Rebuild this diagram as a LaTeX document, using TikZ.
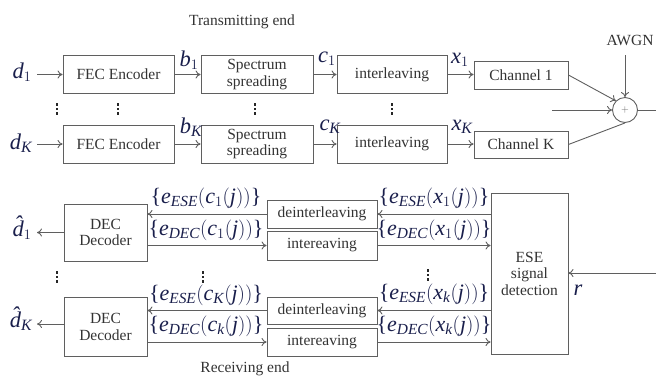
\documentclass[tikz,border=0pt]{standalone}
\usepackage{fontspec}
\setmainfont{Liberation Serif}
\usetikzlibrary{arrows.meta}
\definecolor{linec}{RGB}{95,95,95}
\definecolor{lblc}{RGB}{25,30,75}
\tikzset{
  blk/.style={draw=linec,line width=0.9pt,align=center,inner sep=1pt,
    text=black!80,font=\fontsize{15.5}{16.5}\selectfont},
  lbl/.style={text=lblc,inner sep=0pt,font=\fontsize{22.5}{23}\selectfont},
  elbl/.style={text=lblc,inner sep=0pt,font=\fontsize{22}{23}\selectfont},
  ttl/.style={text=black!80,inner sep=0pt,font=\fontsize{15.5}{16}\selectfont},
}
\newcommand\mi[1]{\mathit{#1}}
\newcommand\lb{\mbox{\{}}
\newcommand\rb{\mbox{\}}}
\newcommand\dhat{\mbox{\itshape\^{d}}}
% three stacked dots
\newcommand\vdotsat[2]{%
  \foreach \dy in {-4.5,0,4.5}
    \fill[black!85] (#1-1.4,#2+\dy-1.4) rectangle ++(2.8,2.8);}
\begin{document}
\begin{tikzpicture}[x=1pt,y=-1pt,line width=0.9pt,draw=linec,
  >={To[length=5pt,width=8pt]}]
  \useasboundingbox (0,0) rectangle (656,376);

  % transmitting end
  \node[ttl] (tx) at (242,22) {Transmitting end};

  \node[blk,minimum width=111pt,minimum height=38pt] (fec1) at (118.5,74.5) {FEC Encoder};
  \node[blk,minimum width=112pt,minimum height=38pt] (spr1) at (257,74.5) {Spectrum\\spreading};
  \node[blk,minimum width=110pt,minimum height=38pt] (int1) at (392,74.5) {interleaving};
  \node[blk,minimum width=94pt,minimum height=28pt] (ch1) at (521,75) {Channel 1};

  \node[blk,minimum width=111pt,minimum height=38pt] (fecK) at (118.5,144) {FEC Encoder};
  \node[blk,minimum width=112pt,minimum height=38pt] (sprK) at (257,144) {Spectrum\\spreading};
  \node[blk,minimum width=110pt,minimum height=38pt] (intK) at (392,144) {interleaving};
  \node[blk,minimum width=94pt,minimum height=27pt] (chK) at (521,144.5) {Channel K};

  \node[draw=linec,circle,minimum size=25pt,inner sep=0pt,text=black!60] (sum) at (625,110) {$+$};
  \node[ttl] (awgn) at (630,40) {AWGN};

  \coordinate (d1in) at (37,74.5);
  \coordinate (dKin) at (37,144);
  \coordinate (nz) at (625,55);
  \coordinate (lin) at (552,110);
  \coordinate (sout) at (656,110);

  \draw[->] (d1in) -- (fec1);
  \draw[->] (fec1) -- (spr1);
  \draw[->] (spr1) -- (int1);
  \draw[->] (int1.east) -- (ch1.west |- int1.east);
  \draw[->] (dKin) -- (fecK);
  \draw[->] (fecK) -- (sprK);
  \draw[->] (sprK) -- (intK);
  \draw[->] (intK.east) -- (chK.west |- intK.east);

  \draw[->] (ch1.east) -- (sum.north west);
  \draw (chK.east) -- (sum.south);
  \draw[->] (nz) -- (sum.north);
  \draw[->] (lin) -- (sum.west);
  \draw (sum.east) -- (sout);

  \node[lbl] (ld1) at (22,72) {$\mi{d}_1$};
  \node[lbl] (ldK) at (21,143) {$\mi{d}_{\mi{K}}$};
  \node[lbl] (lb1) at (189,60) {$\mi{b}_1$};
  \node[lbl] (lbK) at (191,127) {$\mi{b}_{\mi{K}}$};
  \node[lbl] (lc1) at (327,59) {$\mi{c}_1$};
  \node[lbl] (lcK) at (330,127) {$\mi{c}_{\mi{K}}$};
  \node[lbl] (lx1) at (460,60) {$\mi{x}_1$};
  \node[lbl] (lxK) at (462,127) {$\mi{x}_{\mi{K}}$};

  \vdotsat{57}{109}
  \vdotsat{118}{109}
  \vdotsat{255}{109}
  \vdotsat{392}{109}

  % receiving end
  \node[blk,minimum width=83pt,minimum height=57pt] (dec1) at (105.5,232.5) {DEC\\Decoder};
  \node[blk,minimum width=83pt,minimum height=59pt] (decK) at (105.5,327) {DEC\\Decoder};
  \node[blk,minimum width=110pt,minimum height=28pt] (dint1) at (322,214) {deinterleaving};
  \node[blk,minimum width=110pt,minimum height=29pt] (ilv1) at (322,245.5) {intereaving};
  \node[blk,minimum width=110pt,minimum height=27pt] (dintK) at (322,310.5) {deinterleaving};
  \node[blk,minimum width=110pt,minimum height=28pt] (ilvK) at (322,342) {intereaving};
  \node[blk,minimum width=77pt,minimum height=161pt] (ese) at (529.5,273.5) {ESE\\signal\\detection};

  \coordinate (o1) at (37,232.5);
  \coordinate (oK) at (37,324);
  \coordinate (rin) at (656,273);

  \draw[->] (dint1.east -| ese.west) -- (dint1.east);
  \draw[->] (dint1.west) -- (dint1.west -| dec1.east);
  \draw[->] (ilv1.west -| dec1.east) -- (ilv1.west);
  \draw[->] (ilv1.east) -- (ilv1.east -| ese.west);
  \draw[->] (dintK.east -| ese.west) -- (dintK.east);
  \draw[->] (dintK.west) -- (dintK.west -| decK.east);
  \draw[->] (ilvK.west -| decK.east) -- (ilvK.west);
  \draw[->] (ilvK.east) -- (ilvK.east -| ese.west);
  \draw[->] (dec1.west) -- (o1);
  \draw[->] (decK.west |- oK) -- (oK);
  \draw[->] (rin) -- (ese.east |- rin);

  \node[lbl] (lo1) at (22,228) {$\dhat_1$};
  \node[lbl] (loK) at (21,319) {$\dhat_{\mi{K}}$};
  \node[lbl] (lr) at (578,290) {$\mi{r}$};

  \node[elbl] (e1a) at (206,198) {$\lb\mi{e}_{\mi{ESE}}(\mi{c}_1(\mi{j}))\rb$};
  \node[elbl] (e1b) at (206,230) {$\lb\mi{e}_{\mi{DEC}}(\mi{c}_1(\mi{j}))\rb$};
  \node[elbl] (eKa) at (206,295) {$\lb\mi{e}_{\mi{ESE}}(\mi{c}_{\mi{K}}(\mi{j}))\rb$};
  \node[elbl] (eKb) at (206,326) {$\lb\mi{e}_{\mi{DEC}}(\mi{c}_{\mi{k}}(\mi{j}))\rb$};
  \node[elbl] (f1a) at (434,198) {$\lb\mi{e}_{\mi{ESE}}(\mi{x}_1(\mi{j}))\rb$};
  \node[elbl] (f1b) at (434,230) {$\lb\mi{e}_{\mi{DEC}}(\mi{x}_1(\mi{j}))\rb$};
  \node[elbl] (fKa) at (434,294) {$\lb\mi{e}_{\mi{ESE}}(\mi{x}_{\mi{k}}(\mi{j}))\rb$};
  \node[elbl] (fKb) at (434,326) {$\lb\mi{e}_{\mi{DEC}}(\mi{x}_{\mi{k}}(\mi{j}))\rb$};

  \vdotsat{57}{277}
  \vdotsat{203}{277}
  \vdotsat{428}{275}

  \node[ttl] (rx) at (245,369) {Receiving end};
\end{tikzpicture}
\end{document}
